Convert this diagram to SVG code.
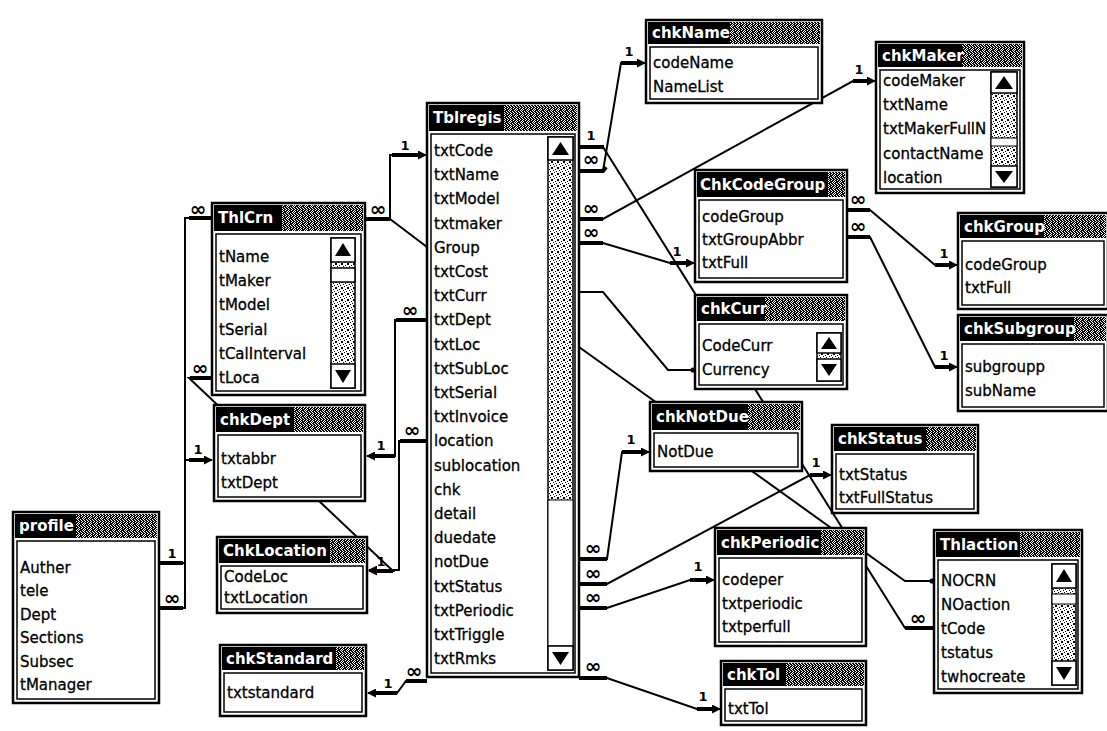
<svg xmlns="http://www.w3.org/2000/svg" width="1107" height="731" viewBox="0 0 1107 731">
<style>
.frame{fill:#fff;stroke:#000;stroke-width:2.5}
.hdr{fill:#000}
.noise{fill:url(#dk)}
.title{font-family:"DejaVu Sans",sans-serif;font-weight:bold;font-size:15px;fill:#fff}
.list{fill:#fff;stroke:#000;stroke-width:1.5}
.f{font-family:"DejaVu Sans",sans-serif;font-size:15px;fill:#000;stroke:#000;stroke-width:0.3}
.c{fill:none;stroke:#000;stroke-width:2}
.stub{fill:none;stroke:#000;stroke-width:4}
.one{font-family:"DejaVu Sans",sans-serif;font-weight:bold;font-size:13px;text-anchor:middle}
.inf{font-family:"DejaVu Sans",sans-serif;font-weight:bold;font-size:20px;text-anchor:middle}
.track{fill:url(#lt);stroke:#000;stroke-width:1.5}
.btn{fill:#fff;stroke:#000;stroke-width:1.5}
.thumb{fill:#fff;stroke:#000;stroke-width:1}
</style>
<defs>
<pattern id="dk" width="6" height="6" patternUnits="userSpaceOnUse">
<rect width="6" height="6" fill="#000"/>
<path d="M0 0h1v1H0zM3 0h1v1H3zM1 1h1v1H1zM5 1h1v1H5zM4 2h1v1H4zM0 2h1v1H0zM2 3h1v1H2zM5 3h1v1H5zM0 4h1v1H0zM3 4h1v1H3zM1 5h1v1H1zM4 5h1v1H4z" fill="#fff"/>
</pattern>
<pattern id="lt" width="6" height="6" patternUnits="userSpaceOnUse">
<rect width="6" height="6" fill="#fff"/>
<path d="M0 0h1v1H0zM3 1h1v1H3zM5 0h1v1H5zM1 2h1v1H1zM4 3h1v1H4zM2 4h1v1H2zM0 5h1v1H0zM5 5h1v1H5z" fill="#000"/>
</pattern>
<marker id="arr" markerWidth="9" markerHeight="9" refX="8" refY="4.5" orient="auto" markerUnits="userSpaceOnUse">
<path d="M0,0 L9,4.5 L0,9 z" fill="#000"/>
</marker>
<marker id="dot" markerWidth="6" markerHeight="6" refX="3" refY="3" orient="auto" markerUnits="userSpaceOnUse">
<circle cx="3" cy="3" r="2.6" fill="#000"/>
</marker>
</defs>
<rect width="1107" height="731" fill="#fff"/>

<g id="connectors">
<path class="c" d="M159,563 H185 V218 H212"/>
<path class="stub" d="M159,563 H183 M189,218 H212"/>
<text class="one" x="172" y="558">1</text>
<text class="inf" x="198" y="216">∞</text>
<path class="c" d="M159,608 H185 V460 H212" marker-end="url(#arr)"/>
<path class="stub" d="M159,608 H183 M189,460 H204"/>
<text class="inf" x="172" y="605">∞</text>
<text class="one" x="198" y="454">1</text>
<path class="c" d="M212,378 H189 L393,571 H369" marker-end="url(#arr)"/>
<path class="stub" d="M212,378 H190 M393,571 H376"/>
<text class="inf" x="200" y="375">∞</text>
<text class="one" x="381" y="566">1</text>
<path class="c" d="M365,219 H390 V155 H426" marker-end="url(#arr)"/>
<path class="stub" d="M365,219 H390 M392,155 H418"/>
<text class="inf" x="378" y="216">∞</text>
<text class="one" x="405" y="150">1</text>
<path class="c" d="M390,219 L427,247"/>
<path class="c" d="M427,320 H395 V456 H367" marker-end="url(#arr)"/>
<path class="stub" d="M427,320 H396 M395,456 H375"/>
<text class="inf" x="410" y="317">∞</text>
<text class="one" x="381" y="450">1</text>
<path class="c" d="M427,441 H399 V570 H369" marker-end="url(#arr)"/>
<path class="stub" d="M427,441 H400"/>
<text class="inf" x="412" y="437">∞</text>
<path class="c" d="M427,681 H406 L397,693 H368" marker-end="url(#arr)"/>
<path class="stub" d="M427,681 H406 M397,693 H376"/>
<text class="inf" x="414" y="678">∞</text>
<text class="one" x="388" y="688">1</text>
<path class="c" d="M579,147 H603 L905,628 H934"/>
<path class="stub" d="M579,147 H604 M905,628 H934"/>
<text class="one" x="591" y="140">1</text>
<text class="inf" x="918" y="625">∞</text>
<path class="c" d="M579,171 H603 L621,63 H645" marker-end="url(#arr)"/>
<path class="stub" d="M579,171 H603 L606,167 M621,63 H637"/>
<text class="inf" x="591" y="166">∞</text>
<text class="one" x="629" y="56">1</text>
<path class="c" d="M579,219 H603 L853,81 H875" marker-end="url(#arr)"/>
<path class="stub" d="M579,219 H603 M853,81 H867"/>
<text class="inf" x="591" y="215">∞</text>
<text class="one" x="859" y="74">1</text>
<path class="c" d="M579,243 H603 L670,263 H694" marker-end="url(#arr)"/>
<path class="stub" d="M579,243 H603 M670,263 H686"/>
<text class="inf" x="591" y="239">∞</text>
<text class="one" x="677" y="256">1</text>
<path class="c" d="M579,292 H603 L668,370 H693" marker-end="url(#dot)"/>
<path class="c" d="M579,347 L905,581 H932" marker-end="url(#dot)"/>
<path class="c" d="M579,559 H607 L622,452 H649" marker-end="url(#arr)"/>
<path class="stub" d="M579,559 H607 M622,452 H641"/>
<text class="inf" x="593" y="555">∞</text>
<text class="one" x="631" y="444">1</text>
<path class="c" d="M579,584 H607 L810,475 H831" marker-end="url(#arr)"/>
<path class="stub" d="M579,584 H607 M810,475 H823"/>
<text class="inf" x="593" y="580">∞</text>
<text class="one" x="816" y="467">1</text>
<path class="c" d="M579,608 H607 L690,580 H714" marker-end="url(#arr)"/>
<path class="stub" d="M579,608 H607 M690,580 H706"/>
<text class="inf" x="593" y="604">∞</text>
<text class="one" x="698" y="571">1</text>
<path class="c" d="M579,678 H607 L697,709 H720" marker-end="url(#arr)"/>
<path class="stub" d="M579,678 H607 M697,709 H712"/>
<text class="inf" x="593" y="673">∞</text>
<text class="one" x="703" y="701">1</text>
<path class="c" d="M847,210 H870 L935,265 H957" marker-end="url(#arr)"/>
<path class="stub" d="M847,210 H870 M935,265 H949"/>
<text class="inf" x="858" y="206">∞</text>
<text class="one" x="944" y="258">1</text>
<path class="c" d="M847,237 H870 L935,367 H957" marker-end="url(#arr)"/>
<path class="stub" d="M847,237 H870 M935,367 H949"/>
<text class="inf" x="858" y="233">∞</text>
<text class="one" x="944" y="360">1</text>
</g>

<g id="profile">
<rect class="frame" x="13" y="512" width="146" height="191"/>
<rect class="hdr" x="15" y="514" width="142" height="24"/>
<rect class="noise" x="76" y="514" width="81" height="24"/>
<text class="title" x="19" y="531">profile</text>
<rect class="list" x="17" y="541" width="138" height="158"/>
<text class="f" x="20" y="573">Auther</text>
<text class="f" x="20" y="596">tele</text>
<text class="f" x="20" y="620">Dept</text>
<text class="f" x="20" y="643">Sections</text>
<text class="f" x="20" y="667">Subsec</text>
<text class="f" x="20" y="690">tManager</text>
</g>

<g id="ThlCrn">
<rect class="frame" x="212" y="203" width="153" height="192"/>
<rect class="hdr" x="214" y="205" width="149" height="26"/>
<rect class="noise" x="282" y="205" width="81" height="26"/>
<text class="title" x="218" y="223">ThlCrn</text>
<rect class="list" x="216" y="234" width="145" height="157"/>
<text class="f" x="219" y="262">tName</text>
<text class="f" x="219" y="286">tMaker</text>
<text class="f" x="219" y="310">tModel</text>
<text class="f" x="219" y="335">tSerial</text>
<text class="f" x="219" y="359">tCalInterval</text>
<text class="f" x="219" y="383">tLoca</text>
<rect class="track" x="331" y="238" width="24" height="150"/>
<rect class="btn" x="331" y="238" width="24" height="24"/>
<path d="M335,256 L343,243 L351,256 z"/>
<rect class="btn" x="331" y="268" width="24" height="14"/>
<rect class="btn" x="331" y="364" width="24" height="24"/>
<path d="M335,370 L343,383 L351,370 z"/>
</g>

<g id="chkDept">
<rect class="frame" x="214" y="405" width="151" height="96"/>
<rect class="hdr" x="216" y="407" width="147" height="25"/>
<rect class="noise" x="294" y="407" width="69" height="25"/>
<text class="title" x="220" y="425">chkDept</text>
<rect class="list" x="218" y="435" width="143" height="62"/>
<text class="f" x="221" y="464">txtabbr</text>
<text class="f" x="221" y="488">txtDept</text>
</g>

<g id="ChkLocation">
<rect class="frame" x="217" y="537" width="150" height="76"/>
<rect class="hdr" x="219" y="539" width="146" height="24"/>
<rect class="noise" x="330" y="539" width="35" height="24"/>
<text class="title" x="223" y="556">ChkLocation</text>
<rect class="list" x="221" y="566" width="142" height="43"/>
<text class="f" x="224" y="582">CodeLoc</text>
<text class="f" x="224" y="603">txtLocation</text>
</g>

<g id="chkStandard">
<rect class="frame" x="220" y="645" width="146" height="71"/>
<rect class="hdr" x="222" y="647" width="142" height="23"/>
<rect class="noise" x="336" y="647" width="28" height="23"/>
<text class="title" x="226" y="664">chkStandard</text>
<rect class="list" x="224" y="673" width="138" height="39"/>
<text class="f" x="227" y="698">txtstandard</text>
</g>

<g id="Tblregis">
<rect class="frame" x="427" y="103" width="152" height="574"/>
<rect class="hdr" x="429" y="105" width="148" height="26"/>
<rect class="noise" x="504" y="105" width="73" height="26"/>
<text class="title" x="433" y="123">Tblregis</text>
<rect class="list" x="431" y="134" width="144" height="539"/>
<text class="f" x="434" y="156">txtCode</text>
<text class="f" x="434" y="180">txtName</text>
<text class="f" x="434" y="204">txtModel</text>
<text class="f" x="434" y="229">txtmaker</text>
<text class="f" x="434" y="253">Group</text>
<text class="f" x="434" y="277">txtCost</text>
<text class="f" x="434" y="301">txtCurr</text>
<text class="f" x="434" y="325">txtDept</text>
<text class="f" x="434" y="350">txtLoc</text>
<text class="f" x="434" y="374">txtSubLoc</text>
<text class="f" x="434" y="398">txtSerial</text>
<text class="f" x="434" y="422">txtInvoice</text>
<text class="f" x="434" y="446">location</text>
<text class="f" x="434" y="471">sublocation</text>
<text class="f" x="434" y="495">chk</text>
<text class="f" x="434" y="519">detail</text>
<text class="f" x="434" y="543">duedate</text>
<text class="f" x="434" y="567">notDue</text>
<text class="f" x="434" y="592">txtStatus</text>
<text class="f" x="434" y="616">txtPeriodic</text>
<text class="f" x="434" y="640">txtTriggle</text>
<text class="f" x="434" y="664">txtRmks</text>
<rect class="track" x="548" y="137" width="25" height="533"/>
<rect class="btn" x="548" y="137" width="25" height="23"/>
<path d="M552,155 L560.5,142 L569,155 z"/>
<rect class="thumb" x="548" y="500" width="25" height="146"/>
<rect class="btn" x="548" y="646" width="25" height="24"/>
<path d="M552,652 L560.5,665 L569,652 z"/>
</g>

<g id="chkName">
<rect class="frame" x="646" y="20" width="176" height="83"/>
<rect class="hdr" x="648" y="22" width="172" height="22"/>
<rect class="noise" x="730" y="22" width="90" height="22"/>
<text class="title" x="652" y="38">chkName</text>
<rect class="list" x="650" y="47" width="168" height="52"/>
<text class="f" x="653" y="68">codeName</text>
<text class="f" x="653" y="92">NameList</text>
</g>

<g id="chkMaker">
<rect class="frame" x="876" y="42" width="148" height="151"/>
<rect class="hdr" x="878" y="44" width="144" height="23"/>
<rect class="noise" x="962" y="44" width="60" height="23"/>
<text class="title" x="882" y="61">chkMaker</text>
<rect class="list" x="880" y="70" width="140" height="119"/>
<text class="f" x="883" y="86">codeMaker</text>
<text class="f" x="883" y="110">txtName</text>
<text class="f" x="883" y="134">txtMakerFullN</text>
<text class="f" x="883" y="159">contactName</text>
<text class="f" x="883" y="183">location</text>
<rect class="track" x="991" y="72" width="26" height="115"/>
<rect class="btn" x="991" y="72" width="26" height="21"/>
<path d="M995,89 L1004,76 L1013,89 z"/>
<rect class="thumb" x="991" y="138" width="26" height="8"/>
<rect class="btn" x="991" y="166" width="26" height="21"/>
<path d="M995,171 L1004,183 L1013,171 z"/>
</g>

<g id="ChkCodeGroup">
<rect class="frame" x="695" y="170" width="152" height="112"/>
<rect class="hdr" x="697" y="172" width="148" height="25"/>
<rect class="noise" x="828" y="172" width="17" height="25"/>
<text class="title" x="700" y="190">ChkCodeGroup</text>
<rect class="list" x="699" y="200" width="144" height="78"/>
<text class="f" x="702" y="222">codeGroup</text>
<text class="f" x="702" y="245">txtGroupAbbr</text>
<text class="f" x="702" y="268">txtFull</text>
</g>

<g id="chkCurr">
<rect class="frame" x="695" y="295" width="152" height="94"/>
<rect class="hdr" x="697" y="297" width="148" height="24"/>
<rect class="noise" x="765" y="297" width="80" height="24"/>
<text class="title" x="701" y="314">chkCurr</text>
<rect class="list" x="699" y="324" width="144" height="61"/>
<text class="f" x="702" y="351">CodeCurr</text>
<text class="f" x="702" y="375">Currency</text>
<rect class="track" x="817" y="333" width="24" height="48"/>
<rect class="btn" x="817" y="333" width="24" height="20"/>
<path d="M821,349 L829,337 L837,349 z"/>
<rect class="btn" x="817" y="359" width="24" height="22"/>
<path d="M821,364 L829,376 L837,364 z"/>
</g>

<g id="chkGroup">
<rect class="frame" x="958" y="213" width="150" height="96"/>
<rect class="hdr" x="960" y="215" width="146" height="23"/>
<rect class="noise" x="1044" y="215" width="62" height="23"/>
<text class="title" x="964" y="232">chkGroup</text>
<rect class="list" x="962" y="241" width="142" height="64"/>
<text class="f" x="965" y="270">codeGroup</text>
<text class="f" x="965" y="293">txtFull</text>
</g>

<g id="chkSubgroup">
<rect class="frame" x="958" y="315" width="150" height="96"/>
<rect class="hdr" x="960" y="317" width="146" height="24"/>
<rect class="noise" x="1074" y="317" width="32" height="24"/>
<text class="title" x="964" y="334">chkSubgroup</text>
<rect class="list" x="962" y="344" width="142" height="63"/>
<text class="f" x="965" y="372">subgroupp</text>
<text class="f" x="965" y="396">subName</text>
</g>

<g id="chkNotDue">
<rect class="frame" x="650" y="402" width="152" height="69"/>
<rect class="hdr" x="652" y="404" width="148" height="26"/>
<rect class="noise" x="748" y="404" width="52" height="26"/>
<text class="title" x="656" y="422">chkNotDue</text>
<rect class="list" x="654" y="433" width="144" height="34"/>
<text class="f" x="657" y="457">NotDue</text>
</g>

<g id="chkStatus">
<rect class="frame" x="832" y="425" width="146" height="88"/>
<rect class="hdr" x="834" y="427" width="142" height="24"/>
<rect class="noise" x="926" y="427" width="50" height="24"/>
<text class="title" x="838" y="444">chkStatus</text>
<rect class="list" x="836" y="454" width="138" height="55"/>
<text class="f" x="839" y="480">txtStatus</text>
<text class="f" x="839" y="503">txtFullStatus</text>
</g>

<g id="chkPeriodic">
<rect class="frame" x="715" y="528" width="151" height="118"/>
<rect class="hdr" x="717" y="530" width="147" height="25"/>
<rect class="noise" x="821" y="530" width="43" height="25"/>
<text class="title" x="721" y="548">chkPeriodic</text>
<rect class="list" x="719" y="558" width="143" height="84"/>
<text class="f" x="722" y="585">codeper</text>
<text class="f" x="722" y="609">txtperiodic</text>
<text class="f" x="722" y="632">txtperfull</text>
</g>

<g id="Thlaction">
<rect class="frame" x="934" y="530" width="148" height="163"/>
<rect class="hdr" x="936" y="532" width="144" height="25"/>
<rect class="noise" x="1020" y="532" width="60" height="25"/>
<text class="title" x="940" y="550">Thlaction</text>
<rect class="list" x="938" y="560" width="140" height="129"/>
<text class="f" x="941" y="586">NOCRN</text>
<text class="f" x="941" y="610">NOaction</text>
<text class="f" x="941" y="634">tCode</text>
<text class="f" x="941" y="658">tstatus</text>
<text class="f" x="941" y="682">twhocreate</text>
<rect class="track" x="1052" y="564" width="24" height="121"/>
<rect class="btn" x="1052" y="564" width="24" height="24"/>
<path d="M1056,582 L1064,569 L1072,582 z"/>
<rect class="thumb" x="1052" y="594" width="24" height="10"/>
<rect class="btn" x="1052" y="661" width="24" height="24"/>
<path d="M1056,667 L1064,680 L1072,667 z"/>
</g>

<g id="chkTol">
<rect class="frame" x="721" y="661" width="145" height="64"/>
<rect class="hdr" x="723" y="663" width="141" height="23"/>
<rect class="noise" x="786" y="663" width="78" height="23"/>
<text class="title" x="727" y="680">chkTol</text>
<rect class="list" x="725" y="689" width="137" height="32"/>
<text class="f" x="728" y="714">txtTol</text>
</g>
</svg>
